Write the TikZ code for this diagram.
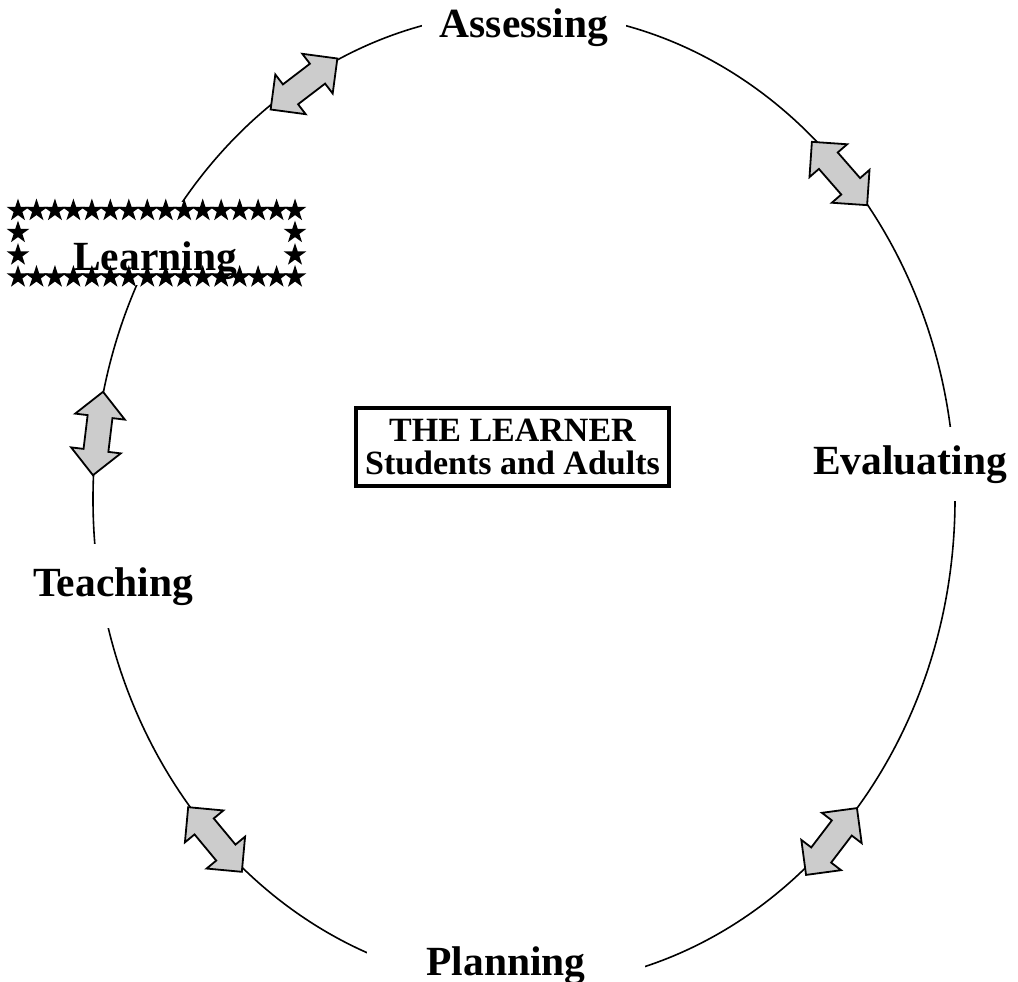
\documentclass[tikz,border=0pt]{standalone}
\usepackage{fontspec}
\setmainfont{Liberation Serif}
\usetikzlibrary{shapes.geometric}
\begin{document}
\begin{tikzpicture}[x=1pt,y=-1pt,
  cycleline/.style={line width=1.6pt},
  stage/.style={font=\fontsize{41.5}{48}\selectfont\bfseries, fill=white, inner sep=0pt},
  learnerbox/.style={draw, line width=4pt, minimum width=313pt, minimum height=78pt,
    align=center, font=\fontsize{34}{33}\selectfont\bfseries, inner sep=0pt},
  starmark/.style={star, star points=5, star point ratio=2.618, fill=black,
    minimum size=24pt, inner sep=0pt},
  dblarrow/.pic={\draw[line width=1.8pt, fill=black!20, line join=miter]
    (-42,0) -- (-17,-25) -- (-17,-12.5) -- (17,-12.5) -- (17,-25) -- (42,0)
    -- (17,25) -- (17,12.5) -- (-17,12.5) -- (-17,25) -- cycle;}
]
\useasboundingbox (0,0) rectangle (1018,982);

% the cycle
\draw[cycleline] (524,499) ellipse [x radius=431, y radius=487];

% stage labels, each breaking the cycle line
\node[stage, anchor=base, inner xsep=18pt, inner ysep=4pt] (assess) at (524,38) {Assessing};
\node[stage, anchor=base, inner xsep=4pt, inner ysep=18pt] (evaluate) at (910,474) {Evaluating};
\node[stage, anchor=base, inner xsep=59pt, inner ysep=2pt] (plan) at (506,975) {Planning};
\node[stage, anchor=base, inner xsep=4pt, inner ysep=23pt] (teach) at (113,596) {Teaching};

% starred frame around Learning
\fill[white] (9,202) rectangle (304,285);
\node[stage, anchor=base, fill=none] (learn) at (155,270) {Learning};
\foreach \i in {0,...,15}{
  \node[starmark] (st\i) at (18+\i*18.47,210.5) {};
  \node[starmark] (sb\i) at (18+\i*18.47,277) {};
}
\foreach \j/\y in {1/232.5,2/255}{
  \node[starmark] (sl\j) at (18,\y) {};
  \node[starmark] (sr\j) at (295,\y) {};
}

% two-way arrows on the cycle
\pic (a1) [rotate=37.4] at (304,84) {dblarrow};
\pic (a2) [rotate=-48.9] at (839.5,173.5) {dblarrow};
\pic (a3) [rotate=52.7] at (831.5,841.5) {dblarrow};
\pic (a4) [rotate=-50.3] at (215,839.5) {dblarrow};
\pic (a5) [rotate=83.1] at (98,433.5) {dblarrow};

% centre
\node[learnerbox] (learner) at (512.5,447) {THE LEARNER\\Students and Adults};
\end{tikzpicture}
\end{document}
